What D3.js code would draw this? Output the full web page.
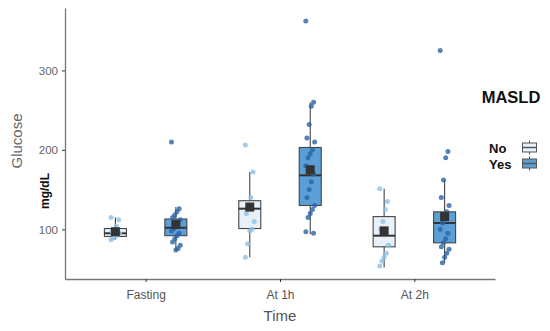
<!DOCTYPE html>
<html>
<head>
<meta charset="utf-8">
<script src="https://cdn.jsdelivr.net/npm/d3@7"></script>
<style>
  body { margin: 0; background: #fff; }
  text { font-family: "Liberation Sans", Arial, sans-serif; }
</style>
</head>
<body>
<script>
const times = ['Fasting', 'At 1h', 'At 2h']
const groups = ['No', 'Yes']
const yTicks = [100, 200, 300]

// glucose readings (mg/dL) per time point, MASLD No / Yes
const noFasting = [115, 112, 104, 100, 97, 95, 93, 91, 89, 87]
const yesFasting = [210, 126, 122, 118, 115, 112, 108, 104, 101, 98, 95, 92, 88, 84, 80, 76, 74]
const no1h = [206, 172, 140, 131, 120, 110, 100, 98, 82, 65]
const yes1h = [362, 260, 255, 232, 215, 210, 200, 195, 190, 180, 170, 160, 150, 140, 130, 125, 120, 115, 97, 95]
const no2h = [151, 135, 125, 110, 100, 80, 70, 65, 60, 54]
const yes2h = [325, 198, 190, 162, 140, 130, 122, 115, 108, 100, 95, 88, 83, 78, 75, 70, 65, 58]

// box summaries: [lowWhisker, q1, median, q3, highWhisker, mean]
const boxNo = [[87, 91, 95, 101, 115, 97], [65, 101, 126, 136, 172, 128], [52, 78, 92, 116, 151, 98]]
const boxYes = [[74, 92, 102, 113, 128, 106], [94, 130, 168, 203, 260, 175], [58, 83, 108, 122, 162, 116]]

const pts = { No: [noFasting, no1h, no2h], Yes: [yesFasting, yes1h, yes2h] }
const boxes = { No: boxNo, Yes: boxYes }

const fills = { No: '#e8f1fa', Yes: '#5b9fd6' }
const dotCol = { No: '#8ec0e6', Yes: '#2a64a8' }

const W = 550, H = 331
const svg = d3.select('body').append('svg').attr('width', W).attr('height', H)

const x = d3.scalePoint().domain(times).range([65, 495]).padding(0.6)
const dodge = d3.scaleBand().domain(groups).range([-0.45 * x.step(), 0.45 * x.step()])
const y = d3.scaleLinear().domain([37.5, 378.5]).range([279, 8])
const bw = 22

const g = svg.append('g')

groups.forEach(gr => {
  times.forEach((t, i) => {
    const cx = x(t) + dodge(gr) + dodge.bandwidth() / 2
    const [lo, q1, med, q3, hi, mean] = boxes[gr][i]
    const bg = g.append('g')
    bg.append('line').attr('x1', cx).attr('x2', cx).attr('y1', y(hi)).attr('y2', y(q3))
      .attr('stroke', '#444').attr('stroke-width', 1.1)
    bg.append('line').attr('x1', cx).attr('x2', cx).attr('y1', y(q1)).attr('y2', y(lo))
      .attr('stroke', '#444').attr('stroke-width', 1.1)
    bg.append('rect').attr('x', cx - bw / 2).attr('width', bw)
      .attr('y', y(q3)).attr('height', y(q1) - y(q3))
      .attr('fill', fills[gr]).attr('stroke', '#444').attr('stroke-width', 1.1)
    bg.append('line').attr('x1', cx - bw / 2).attr('x2', cx + bw / 2)
      .attr('y1', y(med)).attr('y2', y(med)).attr('stroke', '#333').attr('stroke-width', 2)

    // jittered points
    g.selectAll(null).data(pts[gr][i]).enter().append('circle')
      .attr('cx', (d, j) => cx + (((j * 7) % 9) - 4) * 1.1)
      .attr('cy', d => y(d))
      .attr('r', 2.5)
      .attr('fill', dotCol[gr])
      .attr('fill-opacity', 0.8)

    g.append('rect').attr('x', cx - 4.5).attr('y', y(mean) - 4.5)
      .attr('width', 9).attr('height', 9).attr('fill', '#333')
  })
})

// axes
const xAxis = svg.append('g').attr('transform', 'translate(0,279)')
  .call(d3.axisBottom(x).tickSize(3).tickSizeOuter(0))
xAxis.select('.domain').attr('stroke', '#777').attr('stroke-width', 1.3)
xAxis.selectAll('.tick line').attr('stroke', '#333')
xAxis.selectAll('text').attr('fill', '#555').attr('font-size', 12).attr('dy', '1.2em')

const yAxis = svg.append('g').attr('transform', 'translate(65,0)')
  .call(d3.axisLeft(y).tickValues(yTicks).tickSize(3).tickSizeOuter(0))
yAxis.select('.domain').attr('stroke', '#777').attr('stroke-width', 1.3)
yAxis.selectAll('.tick line').attr('stroke', '#333')
yAxis.selectAll('text').attr('fill', '#666').attr('font-size', 11.5).attr('x', -7)

svg.append('text').attr('x', 280).attr('y', 321).attr('text-anchor', 'middle')
  .attr('font-size', 15).attr('fill', '#555').text('Time')
svg.append('text').attr('transform', 'translate(22,141) rotate(-90)').attr('text-anchor', 'middle')
  .attr('font-size', 15).attr('fill', '#666').text('Glucose')
svg.append('text').attr('transform', 'translate(49,191) rotate(-90)').attr('text-anchor', 'middle')
  .attr('font-size', 12).attr('font-weight', 'bold').attr('fill', '#111').text('mg/dL')

// legend
const lg = svg.append('g')
lg.append('text').attr('x', 511).attr('y', 103).attr('text-anchor', 'middle')
  .attr('font-size', 16.5).attr('font-weight', 'bold').attr('fill', '#111').text('MASLD')
groups.forEach((gr, i) => {
  const ky = 147.5 + i * 16
  lg.append('text').attr('x', 489).attr('y', ky + 5).attr('font-size', 13)
    .attr('font-weight', 'bold').attr('fill', '#111').text(gr)
  lg.append('line').attr('x1', 529.5).attr('x2', 529.5).attr('y1', ky - 7).attr('y2', ky + 7)
    .attr('stroke', '#555')
  lg.append('rect').attr('x', 522.5).attr('y', ky - 4.5).attr('width', 14).attr('height', 9)
    .attr('fill', fills[gr]).attr('stroke', '#555')
  lg.append('line').attr('x1', 522.5).attr('x2', 536.5).attr('y1', ky).attr('y2', ky)
    .attr('stroke', '#555').attr('stroke-width', 1.5)
})
</script>
</body>
</html>
